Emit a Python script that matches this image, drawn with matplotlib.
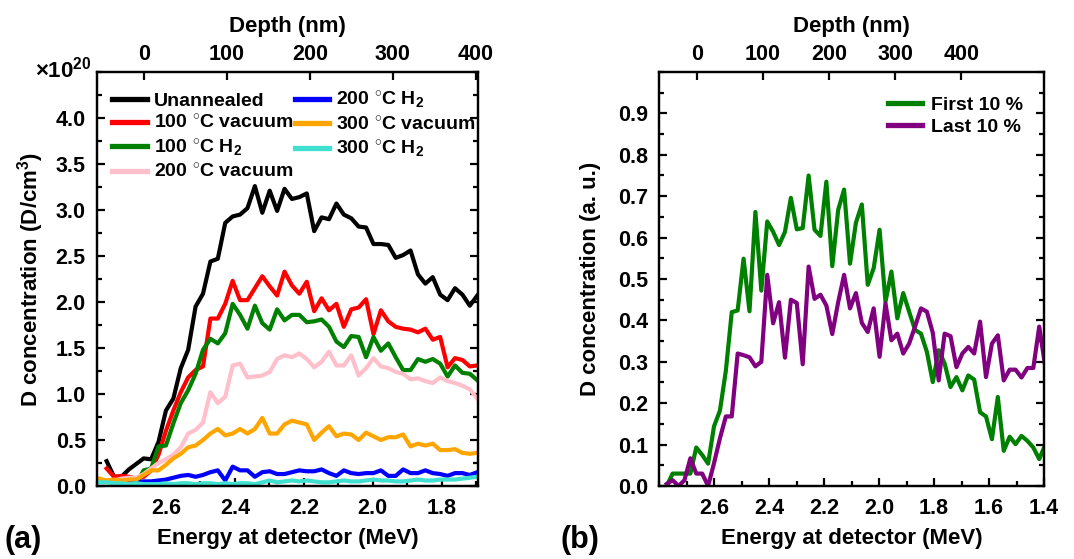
import numpy as np
import matplotlib
matplotlib.use('Agg')
import matplotlib.pyplot as plt
from matplotlib.ticker import MultipleLocator

nan = np.nan

# energy channels at the detector (MeV)
energy = [2.7935, 2.7720, 2.7505, 2.7290, 2.7075, 2.6860, 2.6645, 2.6430, 2.6215, 2.6000,
          2.5785, 2.5570, 2.5355, 2.5140, 2.4925, 2.4710, 2.4495, 2.4280, 2.4065, 2.3850,
          2.3635, 2.3420, 2.3205, 2.2990, 2.2775, 2.2560, 2.2345, 2.2130, 2.1915, 2.1700,
          2.1485, 2.1270, 2.1055, 2.0840, 2.0625, 2.0410, 2.0195, 1.9980, 1.9765, 1.9550,
          1.9335, 1.9120, 1.8905, 1.8690, 1.8475, 1.8260, 1.8045, 1.7830, 1.7615, 1.7400,
          1.7185, 1.6970, 1.6755, 1.6540, 1.6325, 1.6110, 1.5895, 1.5680, 1.5465, 1.5250,
          1.5035, 1.4820, 1.4605, 1.4390, 1.4175, 1.3960]

# panel (a): D concentration in units of 1e20 D/cm3
unannealed = [nan, 0.27, 0.10, 0.10, 0.18, 0.24, 0.30, 0.29, 0.48, 0.82, 0.95, 1.28, 1.48,
              1.95, 2.09, 2.44, 2.47, 2.86, 2.93, 2.95, 3.02, 3.26, 2.97, 3.21, 2.99, 3.23,
              3.12, 3.14, 3.18, 2.77, 2.92, 2.90, 3.07, 2.95, 2.91, 2.82, 2.81, 2.63, 2.63,
              2.62, 2.48, 2.51, 2.56, 2.30, 2.20, 2.27, 2.08, 2.02, 2.15, 2.08, 1.96, 2.07]
vac100 = [nan, 0.19, 0.10, 0.11, 0.10, 0.08, 0.10, 0.17, 0.34, 0.60, 0.82, 1.02, 1.18,
          1.26, 1.30, 1.82, 1.82, 1.98, 2.23, 2.02, 2.02, 2.15, 2.28, 2.17, 2.07, 2.33,
          2.18, 2.09, 2.22, 1.90, 2.04, 1.91, 1.98, 1.73, 1.92, 1.94, 2.03, 1.65, 1.91,
          1.79, 1.73, 1.71, 1.70, 1.67, 1.71, 1.59, 1.62, 1.29, 1.39, 1.37, 1.30, 1.31]
h2_100 = [nan, nan, nan, nan, nan, 0.03, 0.17, 0.19, 0.43, 0.44, 0.68, 0.90, 1.04,
          1.22, 1.48, 1.60, 1.55, 1.66, 1.98, 1.86, 1.71, 1.96, 1.77, 1.70, 1.92, 1.80,
          1.86, 1.86, 1.78, 1.79, 1.81, 1.73, 1.57, 1.51, 1.63, 1.62, 1.40, 1.62, 1.47,
          1.55, 1.40, 1.26, 1.26, 1.38, 1.35, 1.38, 1.33, 1.19, 1.31, 1.23, 1.22, 1.15]
vac200 = [nan, nan, 0.06, 0.08, 0.09, 0.09, 0.13, 0.19, 0.25, 0.29, 0.34, 0.42, 0.57,
          0.61, 0.69, 1.02, 0.90, 0.97, 1.31, 1.33, 1.18, 1.19, 1.20, 1.24, 1.38, 1.42,
          1.40, 1.44, 1.38, 1.29, 1.35, 1.46, 1.31, 1.31, 1.42, 1.20, 1.28, 1.39, 1.30,
          1.28, 1.24, 1.22, 1.16, 1.17, 1.14, 1.12, 1.18, 1.14, 1.12, 1.09, 1.05, 0.95]
h2_200 = [nan, nan, nan, 0.03, 0.03, 0.04, 0.05, 0.05, 0.06, 0.07, 0.09, 0.11, 0.12,
          0.10, 0.12, 0.15, 0.17, 0.06, 0.21, 0.17, 0.17, 0.10, 0.15, 0.16, 0.13, 0.13,
          0.15, 0.17, 0.16, 0.16, 0.18, 0.14, 0.11, 0.17, 0.14, 0.13, 0.14, 0.14, 0.17,
          0.11, 0.11, 0.18, 0.14, 0.14, 0.17, 0.14, 0.13, 0.11, 0.14, 0.14, 0.12, 0.15]
vac300 = [0.08, 0.06, 0.07, 0.06, 0.07, 0.07, 0.12, 0.17, 0.17, 0.23, 0.30, 0.35, 0.42,
          0.44, 0.50, 0.57, 0.62, 0.55, 0.57, 0.62, 0.57, 0.62, 0.74, 0.57, 0.57, 0.67,
          0.71, 0.69, 0.67, 0.50, 0.58, 0.65, 0.54, 0.57, 0.56, 0.50, 0.58, 0.54, 0.50,
          0.53, 0.53, 0.56, 0.43, 0.46, 0.44, 0.46, 0.39, 0.39, 0.40, 0.36, 0.35, 0.36]
h2_300 = [0.04, 0.04, 0.03, 0.03, 0.02, 0.03, 0.02, 0.02, 0.02, 0.03, 0.02, 0.03, 0.03,
          0.02, 0.03, 0.03, 0.02, 0.03, 0.02, 0.03, 0.03, 0.02, 0.04, 0.06, 0.04, 0.05,
          0.06, 0.05, 0.06, 0.05, 0.04, 0.04, 0.05, 0.06, 0.05, 0.05, 0.06, 0.07, 0.06,
          0.06, 0.05, 0.05, 0.06, 0.07, 0.06, 0.06, 0.07, 0.07, 0.07, 0.08, 0.09, 0.10]

# panel (b): normalised profiles
first10 = [nan, 0.0, 0.030, 0.030, 0.030, 0.030, 0.093, 0.075, 0.054, 0.144, 0.182, 0.278,
           0.420, 0.424, 0.549, 0.422, 0.662, 0.472, 0.639, 0.614, 0.582, 0.614, 0.696,
           0.620, 0.623, 0.750, 0.619, 0.604, 0.735, 0.531, 0.667, 0.716, 0.537, 0.636,
           0.680, 0.486, 0.526, 0.619, 0.445, 0.518, 0.405, 0.466, 0.421, 0.377, 0.368,
           0.324, 0.251, 0.328, 0.296, 0.239, 0.263, 0.231, 0.267, 0.257, 0.178, 0.168,
           0.113, 0.215, 0.085, 0.119, 0.101, 0.121, 0.109, 0.093, 0.065, 0.099]
last10 = [nan, 0.005, 0.014, 0.0, 0.014, 0.067, 0.030, 0.030, 0.0, 0.055, 0.115, 0.168,
          0.168, 0.320, 0.316, 0.311, 0.289, 0.300, 0.510, 0.393, 0.444, 0.310, 0.450,
          0.442, 0.294, 0.530, 0.452, 0.462, 0.436, 0.367, 0.444, 0.510, 0.429, 0.466,
          0.394, 0.372, 0.429, 0.312, 0.441, 0.352, 0.368, 0.320, 0.344, 0.385, 0.429,
          0.421, 0.370, 0.255, 0.368, 0.362, 0.287, 0.320, 0.336, 0.320, 0.397, 0.263,
          0.344, 0.364, 0.255, 0.281, 0.281, 0.262, 0.285, 0.285, 0.385, 0.290]

labels_a = ['Unannealed', r'100 $^{\circ}$C vacuum', r'100 $^{\circ}$C H$_2$',
            r'200 $^{\circ}$C vacuum', r'200 $^{\circ}$C H$_2$',
            r'300 $^{\circ}$C vacuum', r'300 $^{\circ}$C H$_2$']
colors_a = ['black', 'red', 'green', 'pink', 'blue', 'orange', 'turquoise']
labels_b = ['First 10 %', 'Last 10 %']
colors_b = ['green', 'purple']


def to_depth(e):
    # depth scale (nm) of the top axis
    return (2.663 - e) * 416.0


plt.rcParams['font.family'] = ['Liberation Sans', 'DejaVu Sans']
plt.rcParams['font.weight'] = 'bold'
plt.rcParams['axes.labelweight'] = 'bold'
plt.rcParams['font.size'] = 14
plt.rcParams['mathtext.fontset'] = 'custom'
plt.rcParams['mathtext.rm'] = 'Liberation Sans:bold'
plt.rcParams['mathtext.default'] = 'rm'

fig = plt.figure(figsize=(10.74, 5.59), dpi=100)
ax_a = fig.add_axes([0.0903, 0.1306, 0.3547, 0.7406])
ax_b = fig.add_axes([0.6136, 0.1306, 0.3585, 0.7406])


def style(ax, xlim):
    for s in ax.spines.values():
        s.set_linewidth(1.6)
    ax.tick_params(which='both', direction='in', top=False, right=True, width=1.6)
    ax.tick_params(which='major', length=6, labelsize=15.5)
    ax.tick_params(axis='x', which='major', pad=9)
    ax.tick_params(axis='y', which='major', pad=8)
    ax.tick_params(which='minor', length=3.5)
    ax.set_xlim(*xlim)
    ax.xaxis.set_minor_locator(MultipleLocator(0.1))
    ax.set_xlabel('Energy at detector (MeV)', fontsize=16, labelpad=6)
    top = ax.twiny()
    top.set_xlim(to_depth(xlim[0]), to_depth(xlim[1]))
    top.set_xticks([0, 100, 200, 300, 400])
    top.tick_params(direction='in', length=6, width=1.6, pad=5, labelsize=15.5)
    top.set_xlabel('Depth (nm)', fontsize=16, labelpad=9)
    for s in top.spines.values():
        s.set_linewidth(1.6)
    return top


# panel (a)
series_a = [unannealed, vac100, h2_100, vac200, h2_200, vac300, h2_300]
for vals, lab, col in zip(series_a, labels_a, colors_a):
    ax_a.plot(energy[:len(vals)], vals, color=col, lw=3.0, label=lab)
style(ax_a, (2.80, 1.695))
ax_a.set_ylim(0, 4.5)
ax_a.set_xticks([2.6, 2.4, 2.2, 2.0, 1.8])
ax_a.set_yticks(np.arange(0, 4.01, 0.5))
ax_a.yaxis.set_minor_locator(MultipleLocator(0.25))
ax_a.set_ylabel(r'D concentration (D/cm$^3$)', fontsize=16, labelpad=7)
ax_a.text(0.033, 0.862, r'$\times$10$^{20}$', transform=fig.transFigure, fontsize=16)
leg = ax_a.legend(ncol=2, loc='upper left', frameon=False, fontsize=14,
                  handlelength=1.75, handletextpad=0.4, columnspacing=0.05,
                  labelspacing=0.25, borderaxespad=0.3, bbox_to_anchor=(0.005, 0.99))
for ln in leg.get_lines():
    ln.set_linewidth(3.8)

# panel (b)
for vals, lab, col in zip([first10, last10], labels_b, colors_b):
    ax_b.plot(energy, vals, color=col, lw=3.0, label=lab)
style(ax_b, (2.80, 1.40))
ax_b.set_ylim(0, 1.0)
ax_b.set_xticks([2.6, 2.4, 2.2, 2.0, 1.8, 1.6, 1.4])
ax_b.set_yticks(np.arange(0, 0.91, 0.1))
ax_b.yaxis.set_minor_locator(MultipleLocator(0.05))
ax_b.set_ylabel('D concentration (a. u.)', fontsize=16, labelpad=12)
leg_b = ax_b.legend(loc='upper right', frameon=False, fontsize=14,
                    handlelength=1.75, handletextpad=0.45, labelspacing=0.25,
                    borderaxespad=0.3, bbox_to_anchor=(0.98, 0.975))
for ln in leg_b.get_lines():
    ln.set_linewidth(3.8)

fig.text(0.004, 0.02, '(a)', fontsize=22)
fig.text(0.522, 0.02, '(b)', fontsize=22)

fig.savefig('out.png', dpi=100)
